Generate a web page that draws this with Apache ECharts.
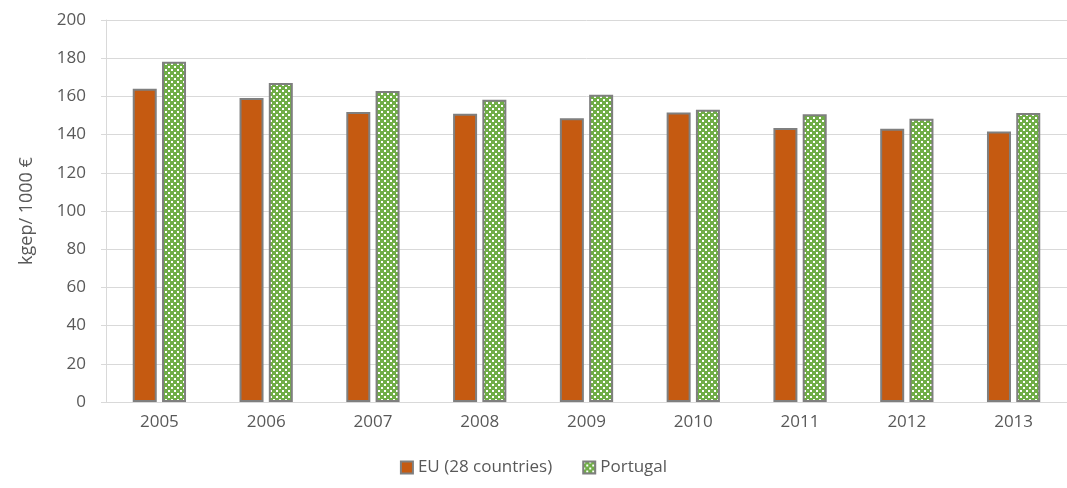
<!DOCTYPE html>
<html>
<head>
<meta charset="utf-8">
<script src="https://cdn.jsdelivr.net/npm/echarts@6/dist/echarts.min.js"></script>
<style>
  html, body { margin: 0; padding: 0; background: #fff; }
  #chart { width: 1067px; height: 488px; }
</style>
</head>
<body>
<div id="chart"></div>
<script>
// data
var years = ['2005', '2006', '2007', '2008', '2009', '2010', '2011', '2012', '2013'];
var euData = [164.0, 159.2, 151.8, 150.9, 148.6, 151.6, 143.4, 143.0, 141.6];
var ptData = [178.1, 167.0, 162.8, 158.2, 160.8, 153.0, 150.7, 148.3, 151.3];
var yTicks = [0, 20, 40, 60, 80, 100, 120, 140, 160, 180, 200];

// green plaid fill for Portugal
function makePattern() {
    var c = document.createElement('canvas');
    c.width = 6;
    c.height = 6;
    var ctx = c.getContext('2d');
    ctx.fillStyle = '#70ad47';
    ctx.fillRect(0, 0, 6, 6);
    ctx.fillStyle = '#ffffff';
    ctx.fillRect(0, 0, 2, 2);
    ctx.fillRect(3, 3, 2, 2);
    return c;
}

var chart = echarts.init(document.getElementById('chart'));
var font = '"Open Sans", "Liberation Sans", sans-serif';

var option = {
    animation: false,
    textStyle: { fontFamily: font },
    grid: {
        left: 106,
        right: -13,
        top: 20,
        bottom: 86
    },
    legend: {
        bottom: 7,
        left: 'center',
        itemWidth: 12,
        itemHeight: 12,
        itemGap: 30,
        icon: 'rect',
        textStyle: { color: '#595959', fontSize: 17, fontFamily: font },
        data: ['EU (28 countries)', 'Portugal']
    },
    xAxis: {
        type: 'category',
        data: years,
        axisLine: { lineStyle: { color: '#d9d9d9', width: 1 } },
        axisTick: { show: false },
        axisLabel: { color: '#595959', fontSize: 17, margin: 12 }
    },
    yAxis: {
        type: 'value',
        min: 0,
        max: yTicks[yTicks.length - 1],
        interval: yTicks[1] - yTicks[0],
        name: 'kgep/ 1000 €',
        nameLocation: 'middle',
        nameGap: 70,
        nameTextStyle: { color: '#595959', fontSize: 18 },
        axisLine: { show: true, lineStyle: { color: '#d9d9d9' } },
        axisTick: { show: true, length: 5, lineStyle: { color: '#d9d9d9' } },
        axisLabel: { color: '#595959', fontSize: 17, margin: 20 },
        splitLine: { lineStyle: { color: '#d9d9d9', width: 1 } }
    },
    series: [
        {
            name: 'EU (28 countries)',
            type: 'bar',
            data: euData,
            barWidth: 24,
            barGap: '22%',
            itemStyle: { color: '#c55a11', borderColor: '#7f7f7f', borderWidth: 2 }
        },
        {
            name: 'Portugal',
            type: 'bar',
            data: ptData,
            barWidth: 24,
            itemStyle: {
                color: { image: makePattern(), repeat: 'repeat' },
                borderColor: '#7f7f7f',
                borderWidth: 2
            }
        }
    ]
};

chart.setOption(option);
window.addEventListener('resize', function () {
    chart.resize();
});
</script>
</body>
</html>
